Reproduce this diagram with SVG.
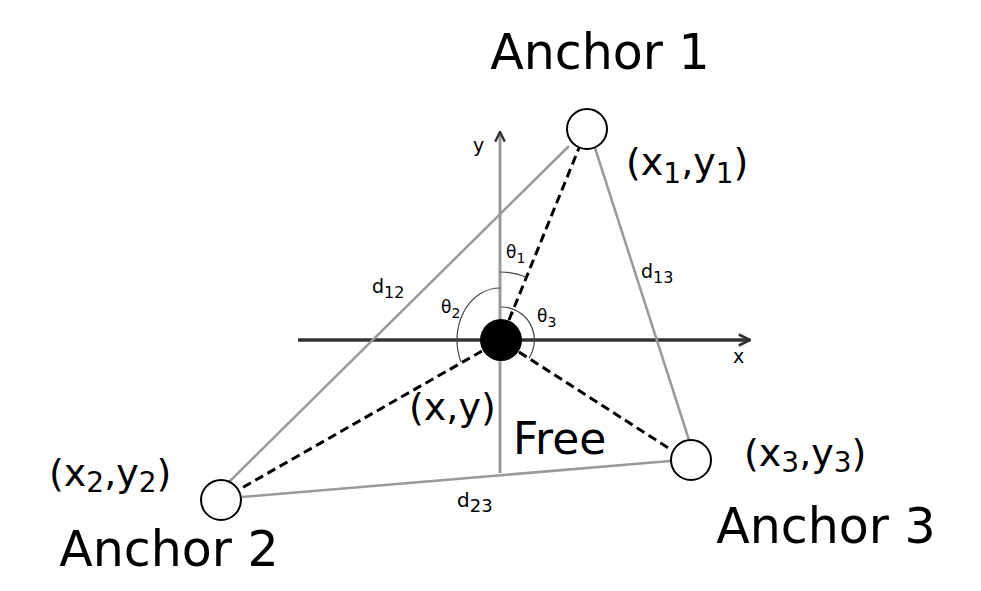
<svg xmlns="http://www.w3.org/2000/svg" width="981" height="591" viewBox="0 0 981 591">
<style>
text{font-family:"DejaVu Sans","Liberation Sans",sans-serif;fill:#000}
.big{font-size:49px}
.coord{font-size:38px}
.sub{font-size:28px}
.small{font-size:19px}
.ssub{font-size:16px}
.edge{stroke:#9a9a9a;stroke-width:2.5;fill:none}
.dash{stroke:#000;stroke-width:3;stroke-dasharray:9 5;fill:none}
.arc{stroke:#444;stroke-width:1.2;fill:none}
.anchor{fill:#fff;stroke:#000;stroke-width:2}
</style>
<defs>
<marker id="ah" viewBox="0 0 10 10" refX="9" refY="5" markerWidth="4" markerHeight="4" orient="auto" markerUnits="strokeWidth">
<path d="M1,1 L9,5 L1,9" fill="none" stroke="#333" stroke-width="2"/>
</marker>
</defs>
<rect width="981" height="591" fill="#fff"/>
<g id="axes">
<line x1="298" y1="340" x2="750" y2="340" stroke="#333" stroke-width="3.5" marker-end="url(#ah)"/>
<line x1="500" y1="473" x2="500" y2="132" stroke="#9a9a9a" stroke-width="3" marker-end="url(#ah)"/>
<text x="733" y="363" class="small">x</text>
<text x="473" y="152" class="small">y</text>
</g>
<g id="connectors">
<line class="edge" x1="569" y1="146" x2="229" y2="482"/>
<line class="edge" x1="595" y1="148" x2="689" y2="440"/>
<line class="edge" x1="242" y1="497" x2="670" y2="461"/>
<line class="dash" x1="509" y1="320" x2="579" y2="148"/>
<line class="dash" x1="482" y1="351" x2="240" y2="489"/>
<line class="dash" x1="519" y1="352" x2="670" y2="449"/>
<path class="arc" d="M500,272 A68,68 0 0 1 526,277"/>
<path class="arc" d="M500,288 A43,52 0 0 0 461,362"/>
<path class="arc" d="M501,307 A33,33 0 0 1 529,358"/>
<text x="372" y="293" class="small">d<tspan class="ssub" dy="5">12</tspan></text>
<text x="641" y="278" class="small">d<tspan class="ssub" dy="5">13</tspan></text>
<text x="457" y="507" style="font-size:20px">d<tspan style="font-size:18px" dy="5">23</tspan></text>
<text x="506" y="258" style="font-size:17px">θ<tspan style="font-size:14px" dy="5">1</tspan></text>
<text x="441" y="313" style="font-size:17px">θ<tspan style="font-size:14px" dy="5">2</tspan></text>
<text x="537" y="322" style="font-size:17px">θ<tspan style="font-size:14px" dy="5">3</tspan></text>
</g>
<g id="anchor1">
<circle class="anchor" cx="587" cy="129" r="20"/>
<text x="600" y="69" class="big" text-anchor="middle">Anchor 1</text>
<text x="626" y="175" class="coord">(x<tspan class="sub" dy="8">1</tspan><tspan dy="-8">,y</tspan><tspan class="sub" dy="8">1</tspan><tspan dy="-8">)</tspan></text>
</g>
<g id="anchor2">
<circle class="anchor" cx="221" cy="500" r="20"/>
<text x="169" y="566" class="big" text-anchor="middle">Anchor 2</text>
<text x="49" y="486" class="coord">(x<tspan class="sub" dy="6">2</tspan><tspan dy="-6">,y</tspan><tspan class="sub" dy="6">2</tspan><tspan dy="-6">)</tspan></text>
</g>
<g id="anchor3">
<circle class="anchor" cx="691" cy="460" r="20"/>
<text x="826" y="543" class="big" text-anchor="middle">Anchor 3</text>
<text x="744" y="466" class="coord">(x<tspan class="sub" dy="6">3</tspan><tspan dy="-6">,y</tspan><tspan class="sub" dy="6">3</tspan><tspan dy="-6">)</tspan></text>
</g>
<g id="free">
<circle cx="501" cy="340" r="21" fill="#000"/>
<text x="409" y="420" class="coord">(x,y)</text>
<text x="513" y="454" style="font-size:44px">Free</text>
</g>
</svg>
